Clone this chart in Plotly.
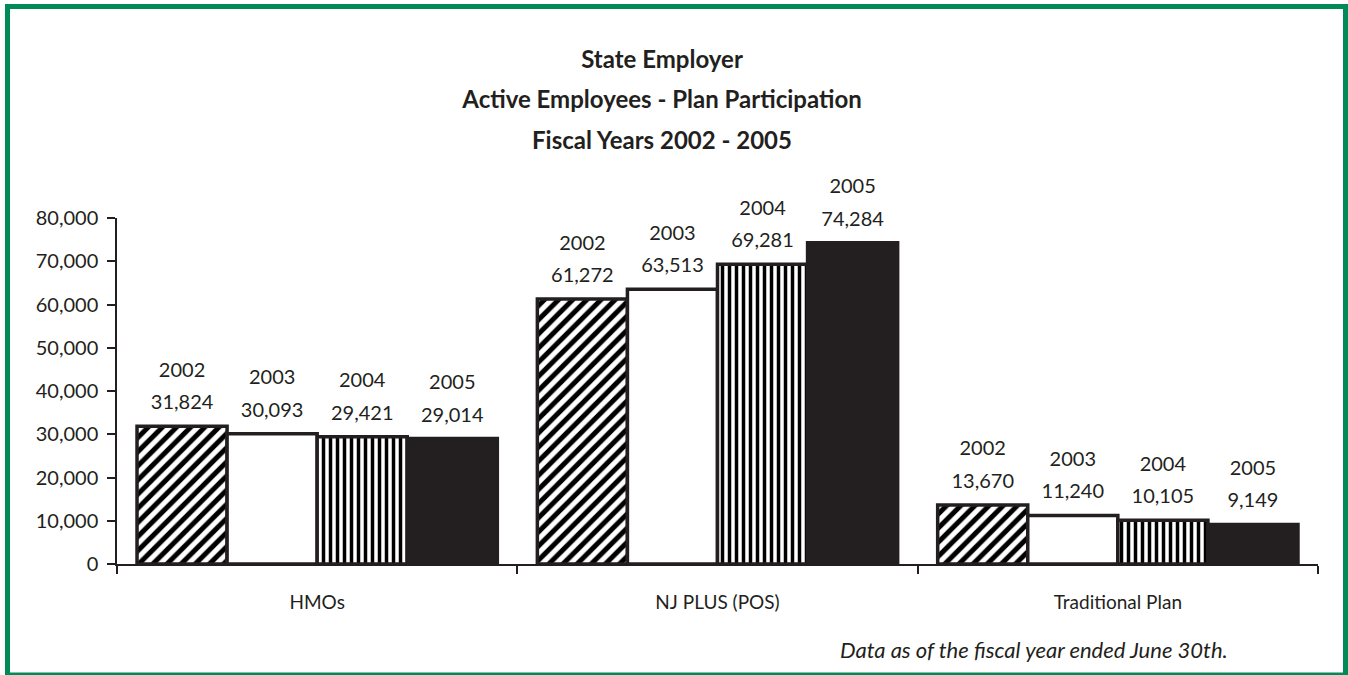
import plotly.graph_objects as go

categories = ["HMOs", "NJ PLUS (POS)", "Traditional Plan"]
years = ["2002", "2003", "2004", "2005"]
values_2002 = [31824, 61272, 13670]
values_2003 = [30093, 63513, 11240]
values_2004 = [29421, 69281, 10105]
values_2005 = [29014, 74284, 9149]
y_ticks = [0, 10000, 20000, 30000, 40000, 50000, 60000, 70000, 80000]

series = [values_2002, values_2003, values_2004, values_2005]

INK = "#231f20"
GREEN = "#008a58"
FONT = "Lato"

# fill styles per year
styles = [
    dict(color="white", pattern=dict(shape="/", fgcolor="black", bgcolor="white",
                                     fgopacity=1, size=10, solidity=0.5, fillmode="replace")),
    dict(color="white"),
    dict(color="white", pattern=dict(shape="|", fgcolor="black", bgcolor="white",
                                     fgopacity=1, size=7, solidity=0.5, fillmode="replace")),
    dict(color=INK),
]

PAD = "<span style='font-size:68px'>&nbsp;</span>"
LBL = ("<span style='font-size:20px'>%{text}</span><br>" + PAD +
       "<span style='font-size:20px'>%{y:,}</span>" + PAD)

fig = go.Figure()
for yr, vals, st in zip(years, series, styles):
    fig.add_trace(go.Bar(
        x=categories, y=vals, name=yr,
        marker=dict(line=dict(color=INK, width=3.5), **st),
        text=[yr] * len(vals),
        texttemplate=LBL,
        textposition="outside", textangle=0,
        textfont=dict(family=FONT, size=25, color=INK),
        constraintext="none",
        cliponaxis=False,
    ))

L, R, T, B = 117, 30, 218, 111
W, H = 1348, 675
pw, ph = W - L - R, H - T - B

fig.update_layout(
    width=W, height=H,
    margin=dict(l=L, r=R, t=T, b=B),
    paper_bgcolor="white", plot_bgcolor="white",
    barmode="group", bargap=0.1, bargroupgap=0,
    showlegend=False,
    font=dict(family=FONT, color=INK),
    title=dict(
        text="<b><span style='font-size:24px'>State Employer</span><br>"
             "<span style='font-size:24px'>Active Employees - Plan Participation</span><br>"
             "<span style='font-size:24px'>Fiscal Years 2002 - 2005</span></b>",
        font=dict(family=FONT, size=31, color=INK),
        x=662 / W, xref="container", xanchor="center",
        y=1 - 68 / H, yref="container", yanchor="middle",
    ),
    xaxis=dict(
        showline=True, linecolor=INK, linewidth=1.5,
        ticks="outside", ticklen=8, tickcolor=INK, tickwidth=1.5,
        tickson="boundaries", showgrid=False,
        tickfont=dict(family=FONT, size=19, color=INK),
        ticklabelstandoff=20,
    ),
    yaxis=dict(
        range=[0, 80000], tickvals=y_ticks, tickformat=",",
        showline=True, linecolor=INK, linewidth=1.5,
        ticks="outside", ticklen=8, tickcolor=INK, tickwidth=1.5,
        showgrid=False, zeroline=False,
        tickfont=dict(family=FONT, size=20, color=INK),
        ticklabelstandoff=5,
    ),
    annotations=[dict(
        text="<i>Data as of the fiscal year ended June 30th.</i>",
        xref="paper", yref="paper",
        x=(1230 - L) / pw, y=(H - B - 649) / ph,
        xanchor="right", yanchor="middle", showarrow=False,
        font=dict(family=FONT, size=22, color=INK),
    )],
    shapes=[dict(
        type="rect", xref="paper", yref="paper",
        x0=(7.5 - L) / pw, x1=(1345.5 - L) / pw,
        y0=(H - B - 675) / ph, y1=(H - B - 6.5) / ph,
        line=dict(color=GREEN, width=5), fillcolor="rgba(0,0,0,0)", layer="below",
    )],
)

fig.write_html(
    "out.html",
    config={"displayModeBar": False},
    post_script="document.body.style.margin='0';document.body.style.overflow='hidden';",
)
